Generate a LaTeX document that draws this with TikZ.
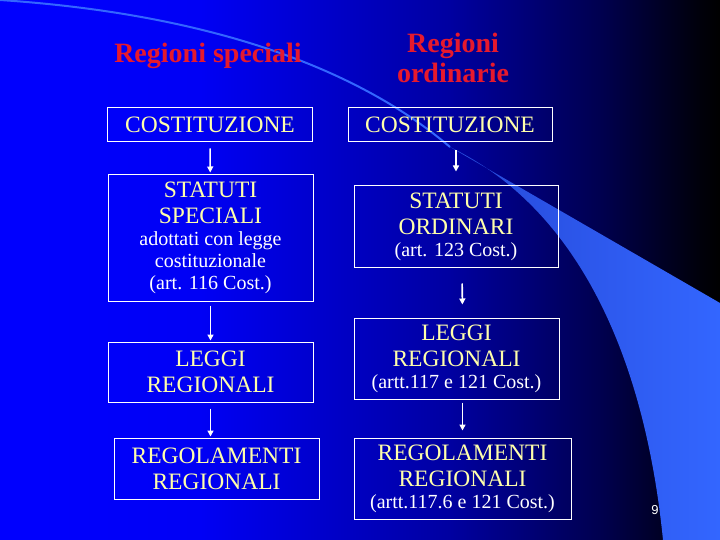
\documentclass[tikz,border=0pt]{standalone}
\usepackage{fontspec}
\setmainfont{Liberation Serif}
\setsansfont{Liberation Sans}
\usetikzlibrary{arrows.meta}
\pgfdeclarehorizontalshading{slidebg}{100bp}{rgb(0bp)=(0,0,1); rgb(25bp)=(0,0,1);
  rgb(38.9bp)=(0,0,0.96); rgb(56.25bp)=(0,0,0.63); rgb(66.67bp)=(0,0,0.31);
  rgb(73.6bp)=(0,0,0.04); rgb(75bp)=(0,0,0); rgb(100bp)=(0,0,0)}
\definecolor{bandblue}{RGB}{51,102,255}
\definecolor{bandfade}{RGB}{38,72,215}
\definecolor{headred}{RGB}{230,25,45}
\definecolor{paleyellow}{RGB}{255,255,170}
\newcommand{\artref}[1]{{\fontsize{20bp}{22bp}\selectfont\color{white}#1}}

\begin{document}
\begin{tikzpicture}[x=1bp,y=-1bp,
    box/.style={draw=white,line width=1bp,align=center,text=paleyellow,inner sep=0pt,
      minimum width=205bp,font=\fontsize{23.5bp}{26bp}\selectfont},
    head/.style={text=headred,align=center,font=\fontsize{28bp}{30bp}\selectfont\bfseries},
    link/.style={draw=white,line width=1.6bp,-{Triangle[length=6bp,width=6bp]}}]
  % slide background
  \shade[shading=slidebg] (0,0) rectangle (720,540);
  \useasboundingbox (0,0) rectangle (720,540);
  \shade[left color=bandfade,right color=bandblue] (450,147) -- (720,303) -- (720,540)
    -- (663,540) .. controls (645,360) and (580,210) .. (450,147) -- cycle;
  \draw[bandblue,line width=2bp] (0,0) .. controls (150,10) and (330,45) .. (450,147);

  % headings
  \node[head,anchor=base] (hspec) at (208,63) {Regioni speciali};
  \node[head] (hord) at (453,58) {Regioni\\ordinarie};

  % regioni speciali
  \node[box,minimum height=34bp] (lcost) at (210,125) {COSTITUZIONE};
  \node[box,minimum height=126bp] (lstat) at (210.5,238)
    {STATUTI\\SPECIALI\\[-4bp]\artref{adottati con legge}\\[-4bp]\artref{costituzionale}\\[-4bp]\artref{(art. 116 Cost.)}};
  \node[box,minimum height=60bp] (lleggi) at (210.5,372) {LEGGI\\REGIONALI};
  \node[box,minimum height=61bp] (lregol) at (216.5,468.5) {REGOLAMENTI\\REGIONALI};

  % regioni ordinarie
  \node[box,minimum width=204bp,minimum height=34bp] (rcost) at (450,125) {COSTITUZIONE};
  \node[box,minimum width=204bp,minimum height=81bp] (rstat) at (456,226.5)
    {STATUTI\\ORDINARI\\[-4bp]\artref{(art. 123 Cost.)}};
  \node[box,minimum height=81bp] (rleggi) at (456.5,358.5)
    {LEGGI\\REGIONALI\\[-4bp]\artref{(artt.117 e 121 Cost.)}};
  \node[box,minimum width=217bp,minimum height=81bp] (rregol) at (462.5,478.5)
    {REGOLAMENTI\\REGIONALI\\[-4bp]\artref{(artt.117.6 e 121 Cost.)}};

  \draw[link,shorten <=6bp,shorten >=2bp] (lcost) -- (lstat);
  \draw[link,shorten <=4bp,shorten >=1bp] (lstat) -- (lleggi);
  \draw[link,shorten <=6bp,shorten >=1bp] (lleggi.south) -- (lleggi.south |- lregol.north);
  \draw[link,shorten <=8bp,shorten >=14bp] (rcost.south -| rstat) -- (rstat.north);
  \draw[link,shorten <=16bp,shorten >=13bp] ([xshift=6bp]rstat.south) -- ([xshift=6bp]rleggi.north);
  \draw[link,shorten <=3bp,shorten >=7bp] (rleggi.south -| rregol) -- (rregol.north);

  \node[text=white,font=\sffamily\fontsize{13bp}{13bp}\selectfont] (pagenum) at (655,510) {9};
\end{tikzpicture}
\end{document}
